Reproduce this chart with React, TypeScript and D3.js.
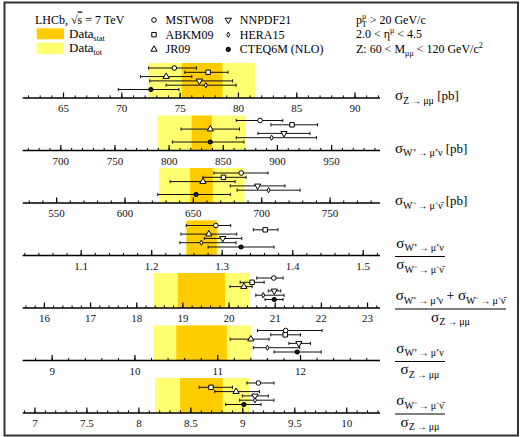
import React from 'react';
import * as d3 from 'd3';

const W = 521;
const H = 437;

// theory predictions, same order in every panel
const models = ['MSTW08', 'ABKM09', 'JR09', 'NNPDF21', 'HERA15', 'CTEQ6M (NLO)'];

// axis domains per panel (Z, W+, W-, W+/W-, (W++W-)/Z, W+/Z, W-/Z)
const domains = [
  [61.5, 92.14], [664.8, 994.7], [525.2, 786.5], [1.017, 1.5238],
  [15.53, 23.27], [8.644, 12.96], [6.882, 10.32],
];
const majorTicks = [
  [65, 70, 75, 80, 85, 90],
  [700, 750, 800, 850, 900, 950],
  [550, 600, 650, 700, 750],
  [1.1, 1.2, 1.3, 1.4, 1.5],
  [16, 17, 18, 19, 20, 21, 22, 23],
  [9, 10, 11, 12],
  [7, 7.5, 8, 8.5, 9, 9.5, 10],
];
const minorSteps = [1, 10, 10, 0.02, 0.2, 0.2, 0.1];

// LHCb measurement: stat band and total band [lo, hi]
const statBands = [
  [75.14, 78.63], [820.8, 839.5], [647.6, 664.2], [1.2496, 1.2922],
  [18.89, 19.91], [10.5, 11.11], [8.396, 8.806],
];
const totBands = [
  [72.29, 81.43], [789, 870.6], [625, 687.4], [1.2472, 1.2945],
  [18.37, 20.45], [10.22, 11.4], [8.155, 9.06],
];

// predictions: central, low, high (rows follow `models`)
const predCentral = [
  [74.5, 77.4, 73.8, 76.65, 77.2, 72.5],
  [884, 913.5, 838, 906, 894.6, 838],
  [685, 672, 657, 697, 705, 652],
  [1.291, 1.361, 1.281, 1.3007, 1.2704, 1.3267],
  [20.97, 20.5, 20.32, 20.98, 20.74, 20.98],
  [11.82, 11.815, 11.4, 11.98, 11.6, 11.96],
  [9.15, 8.694, 8.935, 9.117, 9.117, 9.01],
];
const predLow = [
  [72.3, 75.4, 71.6, 72.4, 73.8, 69.7],
  [862, 894, 811, 882, 862, 803],
  [665, 657, 633, 677, 682, 624],
  [1.249, 1.344, 1.2415, 1.2746, 1.24, 1.28],
  [20.6, 20.24, 20.02, 20.85, 20.58, 20.78],
  [11.48, 11.64, 11.15, 11.86, 11.43, 11.68],
  [9.04, 8.58, 8.73, 8.995, 8.97, 8.835],
];
const predHigh = [
  [76.4, 79.1, 76.0, 79.5, 79.8, 74.9],
  [905, 937, 865, 930, 936, 869],
  [704.6, 688.6, 680.5, 717, 728, 677],
  [1.312, 1.379, 1.3206, 1.3277, 1.3196, 1.3735],
  [21.17, 20.76, 20.5, 21.12, 21.19, 21.17],
  [12.26, 12.0, 11.62, 12.12, 11.99, 12.25],
  [9.3, 8.9, 9.16, 9.245, 9.3, 9.175],
];

const SUB_Z = 'Z\u2009\u2192\u2009\u03bc\u03bc';
const SUB_WP = 'W\u207a\u2009\u2192\u2009\u03bc\u207a\u03bd';
const SUB_WM = 'W\u207b\u2009\u2192\u2009\u03bc\u207b\u03bd\u0304';

// label per panel: single sigma with unit, or fraction
const panelLabels: any[] = [
  { unit: SUB_Z },
  { unit: SUB_WP },
  { unit: SUB_WM },
  { num: [SUB_WP], den: [SUB_WM], w: 50 },
  { num: [SUB_WP, SUB_WM], den: [SUB_Z], w: 111 },
  { num: [SUB_WP], den: [SUB_Z], w: 50 },
  { num: [SUB_WM], den: [SUB_Z], w: 50 },
];

const STAT = '#ffcc00';
const TOT = '#ffff70';
const SERIF = '"Liberation Serif", "Times New Roman", Times, serif';

const markerPath = [
  d3.symbol().type(d3.symbolCircle).size(17)(),
  d3.symbol().type(d3.symbolSquare).size(20)(),
  d3.symbol().type(d3.symbolTriangle).size(17)(),
  d3.symbol().type(d3.symbolTriangle).size(17)(),
  d3.symbol().type(d3.symbolDiamond).size(8)(),
  d3.symbol().type(d3.symbolCircle).size(12)(),
];

const Marker = ({ i, x, y }: { i: number; x: number; y: number }) => (
  <path
    d={markerPath[i] as string}
    transform={`translate(${x},${y})${i === 3 ? ' rotate(180)' : ''}`}
    fill={i === 5 ? '#222' : '#fff'}
    stroke="#000"
    strokeWidth={i === 5 ? 1.3 : 1}
  />
);

const Sigma = ({ x, y, sub, anchor, unit }: any) => (
  <text x={x} y={y} textAnchor={anchor || 'start'} fill="#000">
    {sub.map((s: string, k: number) => (
      <React.Fragment key={k}>
        {k > 0 && <tspan fontSize={14} dy={-3.5}> + </tspan>}
        <tspan fontSize={15}>σ</tspan>
        <tspan fontSize={10} dy={3.5}>{s}</tspan>
      </React.Fragment>
    ))}
    {unit && <tspan fontSize={13} dy={-3.5}> [pb]</tspan>}
  </text>
);

const Panel = ({ p }: { p: number }) => {
  const ay = 98 + p * 52.5;
  const [d0, d1] = domains[p];
  const x = d3.scaleLinear().domain([d0, d1]).range([22.7, 380]);
  const row = d3.scalePoint().domain(models).range([ay - 30, ay - 8.5]);
  const step = minorSteps[p];
  const minor = d3.range(Math.ceil(d0 / step - 1e-6), Math.floor(d1 / step + 1e-6) + 1).map(k => k * step);
  const lab = panelLabels[p];
  return (
    <g>
      <rect x={x(totBands[p][0])} y={ay - 35} width={x(totBands[p][1]) - x(totBands[p][0])} height={35} fill={TOT} />
      <rect x={x(statBands[p][0])} y={ay - 35} width={x(statBands[p][1]) - x(statBands[p][0])} height={35} fill={STAT} />
      {models.map((m, i) => {
        const y = row(m) as number;
        return (
          <g key={m} stroke="#111" strokeWidth={1}>
            <line x1={x(predLow[p][i])} x2={x(predHigh[p][i])} y1={y} y2={y} />
            <line x1={x(predLow[p][i])} x2={x(predLow[p][i])} y1={y - 1.6} y2={y + 1.6} />
            <line x1={x(predHigh[p][i])} x2={x(predHigh[p][i])} y1={y - 1.6} y2={y + 1.6} />
            <Marker i={i} x={x(predCentral[p][i])} y={y} />
          </g>
        );
      })}
      <line x1={22.7} x2={380} y1={ay} y2={ay} stroke="#000" strokeWidth={1.4} />
      {minor.map(v => (
        <line key={'m' + v} x1={x(v)} x2={x(v)} y1={ay} y2={ay - 2.6} stroke="#000" strokeWidth={1} />
      ))}
      {majorTicks[p].map(v => (
        <g key={'M' + v}>
          <line x1={x(v)} x2={x(v)} y1={ay} y2={ay - 5.5} stroke="#000" strokeWidth={1.2} />
          <text x={x(v)} y={ay + 14} textAnchor="middle" fontSize={11} fill="#111">{String(v)}</text>
        </g>
      ))}
      {lab.unit ? (
        <Sigma x={395} y={ay + 2} sub={[lab.unit]} unit />
      ) : (
        <g>
          <Sigma x={395 + lab.w / 2} y={ay - 8} sub={lab.num} anchor="middle" />
          <line x1={395} x2={395 + lab.w} y1={ay + 1} y2={ay + 1} stroke="#000" strokeWidth={1.2} />
          <Sigma x={395 + lab.w / 2} y={ay + 13.5} sub={lab.den} anchor="middle" />
        </g>
      )}
    </g>
  );
};

const Legend = () => (
  <g fill="#000" fontSize={12}>
    <text x={35} y={23.5}>
      LHCb, √<tspan textDecoration="overline">s</tspan> = 7 TeV
    </text>
    <rect x={36.7} y={28.3} width={27.3} height={11} fill={STAT} />
    <rect x={36.7} y={42.7} width={27.3} height={11.3} fill={TOT} />
    <text x={69} y={37.5} fontSize={13}>Data<tspan fontSize={8} dy={3}>stat</tspan></text>
    <text x={69} y={52} fontSize={13}>Data<tspan fontSize={8} dy={3}>tot</tspan></text>
    {models.map((m, i) => {
      const col = i < 3 ? 0 : 1;
      const r = i % 3;
      const mx = col === 0 ? 154 : 228.3;
      const my = 20 + r * 14.7;
      return (
        <g key={m}>
          <g stroke="#000"><Marker i={i} x={mx} y={my} /></g>
          <text x={mx + 11.5} y={my + 4}>{m}</text>
        </g>
      );
    })}
    <text x={356} y={23.5}>
      p<tspan fontSize={8} dy={-5}>μ</tspan><tspan fontSize={8} dx={-4.5} dy={8}>T</tspan>
      <tspan dy={-3}> &gt; 20 GeV/c</tspan>
    </text>
    <text x={356} y={38}>
      2.0 &lt; η<tspan fontSize={8} dy={-5}>μ</tspan><tspan dy={5}> &lt; 4.5</tspan>
    </text>
    <text x={356} y={52.5}>
      Z: 60 &lt; M<tspan fontSize={8} dy={3}>μμ</tspan><tspan dy={-3}> &lt; 120 GeV/c</tspan>
      <tspan fontSize={8} dy={-5}>2</tspan>
    </text>
  </g>
);

const App = () => (
  <svg
    width={W}
    height={H}
    style={{ position: 'absolute', left: 0, top: 0, fontFamily: SERIF }}
  >
    <style>{`text, tspan { font-family: ${SERIF}; }`}</style>
    <rect x={0} y={0} width={W} height={H} fill="#fff" />
    {domains.map((_, p) => <Panel key={p} p={p} />)}
    <Legend />
    <rect x={4.5} y={2.5} width={513.5} height={433} fill="none" stroke="#333" strokeWidth={2} />
  </svg>
);

export default App;
